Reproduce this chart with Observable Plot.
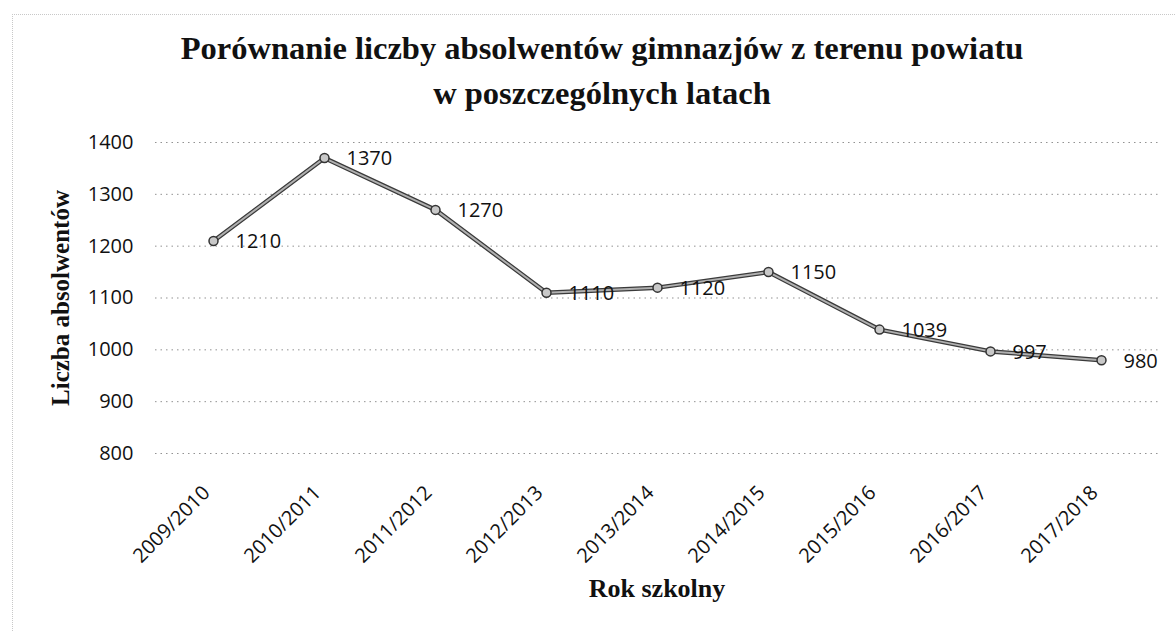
<!DOCTYPE html>
<html>
<head>
<meta charset="utf-8">
<script src="https://cdn.jsdelivr.net/npm/d3@7"></script>
<script src="https://cdn.jsdelivr.net/npm/@observablehq/plot@0.6"></script>
<style>
  html, body { margin: 0; padding: 0; background: #fff; }
  #wrap { position: relative; width: 1176px; height: 632px; overflow: hidden; background:#fff; }
  #frame { position: absolute; left: 12px; top: 14px; width: 1200px; height: 700px;
           border-left: 1px dotted #c8c8c8; border-top: 1px dotted #c8c8c8; }
  #title { position: absolute; left: 0; top: 0; width: 1176px; height: 120px;
           font-family: "Liberation Serif", "DejaVu Serif", serif; font-weight: bold;
           font-size: 32.5px; color: #111; text-align: center; }
  #title div { position: absolute; left: 0; width: 1176px; text-align: center; }
  #chart { position: absolute; left: 0; top: 120px; }
</style>
</head>
<body>
<div id="wrap">
  <div id="frame"></div>
  <div id="title">
    <div id="t1" style="top:30px; padding-left:28px; box-sizing:border-box;">Porównanie liczby absolwentów gimnazjów z terenu powiatu</div>
    <div id="t2" style="top:75px; padding-left:28px; box-sizing:border-box;">w poszczególnych latach</div>
  </div>
  <div id="chart"></div>
</div>
<script>
const years = ["2009/2010","2010/2011","2011/2012","2012/2013","2013/2014","2014/2015","2015/2016","2016/2017","2017/2018"];
const graduates = [1210, 1370, 1270, 1110, 1120, 1150, 1039, 997, 980];
const yTicks = [800, 900, 1000, 1100, 1200, 1300, 1400];
const yLabel = "Liczba absolwentów";
const xLabel = "Rok szkolny";

const data = years.map((y, i) => ({year: y, value: graduates[i]}));

const sans = "'Open Sans', 'Liberation Sans', sans-serif";
const serif = "'Liberation Serif', 'DejaVu Serif', serif";

const chart = Plot.plot({
  width: 1176,
  height: 512,
  marginLeft: 155,
  marginRight: 18,
  marginTop: 22,
  marginBottom: 179,
  style: {background: "transparent", color: "#111"},
  x: {type: "point", domain: years, padding: 0.5},
  y: {domain: [800, 1400]},
  marks: [
    Plot.gridY(yTicks, {stroke: "#777", strokeOpacity: 0.8, strokeDasharray: "1.5,4"}),
    Plot.axisY({ticks: yTicks, tickFormat: d => String(d), tickSize: 0, tickPadding: 22, label: null, fontSize: 20, fontFamily: sans, fill: "#111"}),
    Plot.axisX({tickSize: 0, tickPadding: 36, dx: -7, tickRotate: -45, label: null, fontSize: 20, fontFamily: sans, fill: "#111"}),
    Plot.line(data, {x: "year", y: "value", stroke: "#3a3a3a", strokeWidth: 4.5}),
    Plot.line(data, {x: "year", y: "value", stroke: "#b0b0b0", strokeWidth: 2}),
    Plot.dot(data, {x: "year", y: "value", r: 4.5, fill: "#c8c8c8", stroke: "#333", strokeWidth: 1.5}),
    Plot.text(data, {x: "year", y: "value", text: d => String(d.value), textAnchor: "start", dx: 22, dy: 1, fontSize: 20, fontFamily: sans, fill: "#111"}),
    Plot.text([yLabel], {frameAnchor: "left", textAnchor: "middle", text: d => d, rotate: -90, dx: -95, fontSize: 25, fontWeight: "bold", fontFamily: serif, fill: "#111"}),
    Plot.text([xLabel], {frameAnchor: "bottom", textAnchor: "middle", text: d => d, dy: 143, fontSize: 26, fontWeight: "bold", fontFamily: serif, fill: "#111"})
  ]
});
document.getElementById("chart").appendChild(chart);
</script>
</body>
</html>
